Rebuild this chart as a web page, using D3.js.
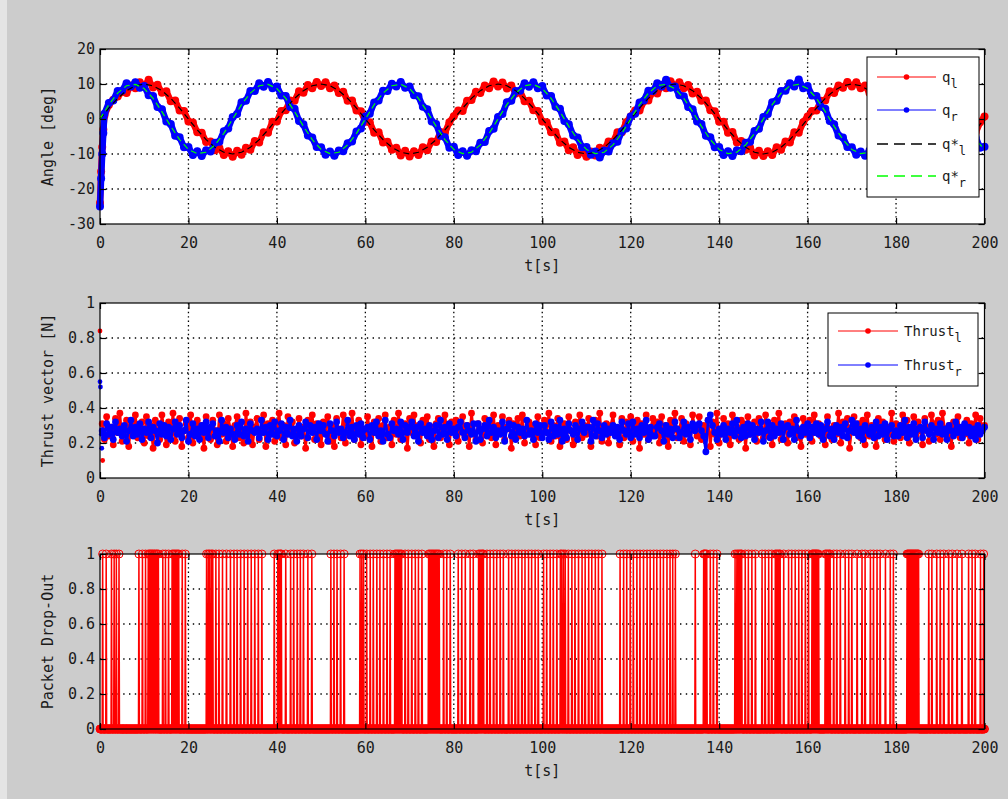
<!DOCTYPE html>
<html>
<head>
<meta charset="utf-8">
<title>Angle, thrust and packet drop-out</title>
<script src="https://cdn.jsdelivr.net/npm/d3@7"></script>
<style>
  html, body { margin: 0; padding: 0; background: #cccccc; overflow: hidden; }
  svg { display: block; }
</style>
</head>
<body>
<script>
// ---- data ----
var xTicks = [0, 20, 40, 60, 80, 100, 120, 140, 160, 180, 200];
var angleTicks = [-30, -20, -10, 0, 10, 20];
var unitTicks = [0, 0.2, 0.4, 0.6, 0.8, 1];

// measured angles [deg]: start transient, then one sample per second from t = 1 s
var angleStartT = [0, 0.25, 0.5, 0.75];
var qlStart = [-24, -15, -8, -3];
var qrStart = [-25, -17, -10, -4];
var ql = [
  1.0, 4.0, 5.5, 6.4, 7.8, 7.4, 9.6, 8.8, 10.5, 9.3,
  11.2, 9.0, 9.8, 7.5, 7.9, 5.1, 5.3, 2.4, 2.3, -0.7,
  -1.0, -3.8, -3.9, -6.6, -6.4, -8.9, -8.3, -10.3, -9.2, -10.8,
  -9.1, -10.2, -8.2, -8.8, -6.3, -6.7, -3.8, -3.9, -0.8, -0.7,
  2.3, 2.5, 5.3, 5.2, 7.9, 7.5, 9.7, 8.8, 10.6, 9.4,
  10.5, 8.8, 9.6, 7.4, 7.8, 5.2, 5.3, 2.4, 2.2, -0.8,
  -0.9, -3.9, -3.8, -6.7, -6.5, -8.8, -8.2, -10.4, -9.1, -10.7,
  -9.2, -10.3, -8.1, -8.9, -6.4, -6.6, -3.7, -3.9, -0.9, 0.8,
  2.4, 2.3, 5.2, 5.4, 7.8, 7.4, 9.6, 8.8, 10.7, 9.3,
  10.4, 8.7, 9.6, 7.3, 7.9, 5.1, 5.2, 2.5, 2.3, -0.7,
  -0.9, -3.8, -3.7, -6.8, -6.4, -8.9, -8.1, -10.3, -9.2, -10.8,
  -9.3, -10.4, -8.2, -8.7, -6.4, -6.6, -3.8, -3.8, -0.9, 0.7,
  2.4, 2.4, 5.1, 5.3, 7.9, 7.3, 9.7, 8.8, 10.8, 9.3,
  10.5, 8.8, 9.7, 7.3, 7.8, 5.2, 5.3, 2.5, 2.2, -0.8,
  -0.8, -3.9, -3.7, -6.7, -6.3, -8.8, -8.2, -10.4, -9.1, -10.6,
  -9.2, -10.3, -8.1, -8.8, -6.4, -6.7, -3.8, -3.9, -0.9, 0.7,
  2.3, 2.4, 5.2, 5.3, 7.9, 7.4, 9.6, 8.9, 10.6, 9.3,
  10.5, 8.8, 9.6, 7.4, 7.8, 5.2, 5.3, 2.4, 2.3, -0.7,
  -0.9, -3.8, -3.8, -6.6, -6.4, -8.9, -8.2, -10.3, -9.2, -10.8,
  -9.2, -10.3, -8.2, -8.8, -6.4, -6.6, -3.8, -3.9, -0.9, 0.7
];
var qr = [
  1.5, 4.6, 5.3, 8.0, 8.1, 10.2, 9.3, 10.5, 8.9, 9.4, 6.8, 6.6, 3.4, 2.8, -0.7,
  -1.4, -4.8, -5.2, -8.1, -8.0, -10.3, -9.2, -10.6, -8.9, -9.3, -6.8, -6.5, -3.5, -2.7, 0.6,
  1.4, 4.8, 5.2, 8.0, 8.0, 10.2, 9.2, 10.6, 8.8, 9.3, 6.7, 6.6, 3.4, 2.9, -0.6,
  -1.5, -4.7, -5.3, -8.0, -8.1, -10.2, -9.3, -10.5, -9.0, -9.2, -6.9, -6.4, -3.6, -2.7, 0.7,
  1.5, 4.7, 5.3, 8.1, 8.0, 10.1, 9.3, 10.6, 8.9, 9.3, 6.8, 6.5, 3.5, 2.8, -0.7,
  -1.4, -4.8, -5.2, -8.2, -7.9, -10.3, -9.2, -10.5, -8.9, -9.2, -6.8, -6.6, -3.4, -2.8, 0.6,
  1.4, 4.8, 5.2, 8.0, 8.1, 10.2, 9.2, 10.5, 8.8, 9.4, 6.7, 6.6, 3.5, 2.9, -0.6,
  -1.5, -4.7, -5.3, -8.1, -8.0, -10.2, -9.3, -11.0, -9.0, -9.3, -6.9, -6.5, -3.5, -2.7, 0.7,
  1.5, 4.7, 5.3, 8.1, 8.0, 10.2, 9.3, 11.2, 8.9, 9.3, 6.8, 6.5, 3.4, 2.8, -0.7,
  -1.4, -4.8, -5.2, -8.1, -8.0, -10.3, -9.2, -10.6, -8.9, -9.2, -6.8, -6.5, -3.4, -2.8, 0.6,
  1.4, 4.8, 5.2, 8.0, 8.1, 10.2, 9.3, 11.3, 8.8, 9.4, 6.7, 6.6, 3.5, 2.9, -0.6,
  -1.5, -4.7, -5.3, -8.0, -8.1, -10.2, -9.3, -10.5, -9.0, -9.2, -6.9, -6.4, -3.6, -2.7, 0.7,
  1.5, 4.7, 5.3, 8.1, 8.0, 10.1, 9.3, 10.6, 8.9, 9.3, 6.8, 6.5, 3.5, 2.8, -0.7,
  -1.4, -4.8, -5.2, -8.2, -7.9
];

// reference angles [deg], one sample every 2 s from t = 0
var qlRef = [
  0, 3.1, 5.9, 8.1, 9.5, 10, 9.5, 8.1, 5.9, 3.1, 0, -3.1, -5.9, -8.1, -9.5, -10, -9.5, -8.1, -5.9, -3.1,
  0, 3.1, 5.9, 8.1, 9.5, 10, 9.5, 8.1, 5.9, 3.1, 0, -3.1, -5.9, -8.1, -9.5, -10, -9.5, -8.1, -5.9, -3.1,
  0, 3.1, 5.9, 8.1, 9.5, 10, 9.5, 8.1, 5.9, 3.1, 0, -3.1, -5.9, -8.1, -9.5, -10, -9.5, -8.1, -5.9, -3.1,
  0, 3.1, 5.9, 8.1, 9.5, 10, 9.5, 8.1, 5.9, 3.1, 0, -3.1, -5.9, -8.1, -9.5, -10, -9.5, -8.1, -5.9, -3.1,
  0, 3.1, 5.9, 8.1, 9.5, 10, 9.5, 8.1, 5.9, 3.1, 0, -3.1, -5.9, -8.1, -9.5, -10, -9.5, -8.1, -5.9, -3.1,
  0
];
var qrRef = [
  0, 4.1, 7.4, 9.5, 9.9, 8.7, 5.9, 2.1, -2.1, -5.9, -8.7, -9.9, -9.5, -7.4, -4.1,
  0, 4.1, 7.4, 9.5, 9.9, 8.7, 5.9, 2.1, -2.1, -5.9, -8.7, -9.9, -9.5, -7.4, -4.1,
  0, 4.1, 7.4, 9.5, 9.9, 8.7, 5.9, 2.1, -2.1, -5.9, -8.7, -9.9, -9.5, -7.4, -4.1,
  0, 4.1, 7.4, 9.5, 9.9, 8.7, 5.9, 2.1, -2.1, -5.9, -8.7, -9.9, -9.5, -7.4, -4.1,
  0, 4.1, 7.4, 9.5, 9.9, 8.7, 5.9, 2.1, -2.1, -5.9, -8.7, -9.9, -9.5, -7.4, -4.1,
  0, 4.1, 7.4, 9.5, 9.9, 8.7, 5.9, 2.1, -2.1, -5.9, -8.7, -9.9, -9.5, -7.4, -4.1,
  0, 4.1, 7.4, 9.5, 9.9, 8.7, 5.9, 2.1, -2.1, -5.9, -8.7
];

// thrust [0.01 N]: isolated first samples, then one sample every 0.5 s from t = 0.5 s
var thrustLStartT = [0, 0.6];
var thrustLStart = [84, 10];
var thrustRStartT = [0, 0.1, 0.3, 0.4];
var thrustRStart = [55, 52, 25, 17];
var thrustL = [
  31,22,35,24,29,19,34,26,37,21, 28,33,18,30,25,36,23,27,32,20,
  35,24,30,17,33,26,22,36,28,19, 32,25,37,21,29,34,18,27,31,23,
  36,20,28,33,24,30,17,35,26,22, 33,27,19,36,25,31,21,34,28,18,
  30,35,23,27,20,37,24,32,19,29, 34,22,26,36,18,31,25,33,21,28,
  37,23,30,19,35,26,32,20,27,34, 24,29,17,33,28,36,22,31,25,19,
  32,26,35,21,30,18,34,27,23,36, 20,31,25,37,22,29,33,19,28,24,
  35,27,18,32,26,34,21,30,36,23, 29,19,33,25,37,22,28,31,17,34,
  26,36,24,30,20,33,27,35,22,29, 18,31,34,23,28,36,25,19,32,27,
  33,21,29,35,24,30,18,37,26,22, 31,28,20,34,25,32,23,36,19,30,
  27,35,22,29,33,17,31,26,34,24, 36,20,28,32,25,30,19,35,23,29,
  33,26,37,21,30,24,34,18,28,31, 22,35,27,19,32,26,36,23,30,25,
  34,18,29,33,24,37,21,28,31,20, 30,36,25,27,19,34,23,32,26,35,
  21,29,33,17,31,25,36,22,28,34, 26,32,20,35,24,30,18,33,27,37,
  23,28,34,21,31,26,19,36,29,24, 35,22,30,27,33,18,32,25,37,20,
  28,34,24,31,19,36,26,29,22,33, 31,17,35,25,28,32,21,34,27,23,
  36,24,30,19,33,26,37,22,29,31, 20,32,27,35,23,28,18,34,25,30,
  33,21,36,26,31,24,29,19,35,27, 22,30,25,37,20,32,28,34,17,29,
  35,26,31,23,33,19,36,24,30,28, 18,34,27,32,22,29,25,37,21,31,
  30,23,36,26,33,20,28,35,24,32, 27,19,34,29,21,36,31,25,33,22,
  37,28,24,30,18,32,26,35,23,29, 25,33,20,31,27,36,22,34,28,30
];
var thrustR = [
  27,23,31,25,29,22,32,26,28,24, 30,21,27,33,24,29,25,31,22,28,
  26,32,23,29,27,20,31,25,30,24, 29,22,28,32,25,30,23,27,33,21,
  25,31,24,28,22,30,26,32,23,29, 31,24,27,21,33,26,29,23,28,25,
  22,30,25,32,24,28,21,31,27,26, 28,23,33,26,29,22,30,25,32,24,
  27,31,22,29,25,33,24,28,21,30, 24,28,32,23,30,26,29,22,31,27,
  30,25,21,31,27,24,32,26,28,23, 26,33,24,29,22,30,25,31,23,28,
  29,22,30,26,32,24,27,21,33,25, 23,31,27,28,25,32,22,30,26,29,
  32,24,29,21,31,26,28,24,30,22, 27,30,23,33,25,29,22,31,26,28,
  24,29,32,26,23,30,27,25,31,21, 31,22,28,30,24,33,26,29,23,27,
  25,32,21,28,31,24,30,22,29,26, 28,24,33,25,27,22,31,26,30,23,
  30,26,22,32,24,29,25,33,21,28, 23,31,27,25,30,22,28,32,26,29,
  29,21,33,24,31,27,23,30,25,28, 26,30,24,29,22,32,27,25,31,23,
  32,25,28,23,30,26,33,22,29,24, 24,29,31,27,21,30,25,28,23,32,
  28,23,26,32,25,29,22,31,27,30, 31,27,24,15,33,36,30,26,22,28,
  25,30,22,28,26,31,24,33,27,23, 29,24,31,25,30,22,28,26,32,21,
  27,32,23,30,24,28,26,31,22,29, 30,25,28,22,33,27,24,29,26,31,
  23,29,26,31,25,30,22,28,32,24, 28,22,30,26,29,24,31,23,27,33,
  26,31,24,28,22,30,27,25,29,23, 32,24,29,25,31,22,28,30,24,27,
  24,30,26,33,23,29,25,31,22,28, 29,23,32,27,25,30,22,28,26,31,
  25,28,22,30,27,24,32,26,29,23, 31,26,29,24,28,22,30,25,27,29
];

// packet drop-out: times [s] of lost packets, signal sampled every 0.1 s
var dropDt = 0.1;
var dropTimes = [
  0.6, 1.4, 2.6, 3.2, 3.7, 4.3,
  8.8, 9.6, 10.3, 10.9, 11.2, 11.4, 11.7, 11.9, 12.2, 12.4, 12.7, 12.9, 13.2, 14.2, 14.8, 15.5,
  16.3, 16.6, 16.9, 17.2, 17.5, 17.8, 18.6, 19.3,
  24.1, 24.5, 24.8, 25.2, 25.5, 26.2, 26.9, 27.7, 28.6, 29.5, 30.3, 31.0, 31.8, 32.6, 33.4, 34.2,
  35.0, 35.8, 36.6,
  39.4, 40.2, 40.5, 40.8, 41.0, 42.0, 43.1, 43.8, 44.6, 45.3, 46.0, 47.0, 47.9,
  52.2, 52.9, 53.6, 54.4, 55.2,
  58.8, 59.2, 59.6, 60.3, 61.1, 61.8, 62.6, 63.3, 64.1, 64.9, 65.6, 66.7, 67.0, 67.3, 67.6, 67.9,
  68.2, 69.0, 69.7, 70.5, 71.3, 72.0, 72.8, 74.3, 74.6, 74.9, 75.2, 75.5, 75.8, 76.1, 76.4, 76.7,
  77.7, 78.4, 79.2,
  81.0, 81.8, 82.6, 83.7, 84.4, 85.6, 85.9, 86.2, 86.5, 86.7, 87.5, 88.2, 89.0, 89.7, 90.5, 91.2,
  92.4, 93.1, 93.9, 94.6, 95.4, 96.1, 96.9, 97.6, 98.4, 99.1, 100.3, 101.0, 101.8, 102.5, 103.3,
  104.1, 104.4, 104.8, 105.2, 105.9, 106.7, 107.4, 108.2, 109.0, 109.7, 110.5, 111.2, 112.0,
  112.7, 113.5,
  117.6, 118.4, 119.1, 119.9, 120.6, 121.4, 122.1, 122.9, 123.7, 124.4, 125.2, 125.9, 126.7,
  127.4, 128.2, 128.9, 129.5, 130.1,
  134.6, 136.5, 136.7, 136.9, 137.2, 138.0, 138.7, 139.5,
  143.6, 144.0, 144.3, 144.6, 144.9, 145.1, 145.9, 146.6, 147.4, 148.2, 149.7, 150.4, 151.2,
  151.9, 152.7, 153.0, 153.3, 153.6, 153.8, 154.6, 155.7, 156.4, 157.2, 158.0, 158.7, 159.5,
  160.2, 161.0, 161.2, 161.4, 161.6, 161.8, 162.0, 162.2, 162.5, 164.0, 164.3, 164.6, 164.9,
  165.1, 165.9, 166.6, 167.4, 168.5, 169.3, 170.0, 171.2, 172.3, 173.0, 174.2, 174.9, 175.7,
  176.4, 177.6, 178.7, 179.4,
  182.5, 182.7, 182.9, 183.1, 183.3, 183.5, 183.7, 183.9, 184.1, 184.3, 184.5, 184.7, 184.9, 185.1,
  187.4, 188.1, 189.2, 190.0, 190.8, 191.9, 192.7, 193.8, 194.9, 196.4, 197.2, 197.9, 199.1, 199.8
];

// ---- drawing ----
var W = 1008, H = 799;
var FONT = '"DejaVu Sans Mono", "Liberation Mono", monospace';
var RED = '#ff0000', BLUE = '#0000ff', GREEN = '#00ff00';
var left = 100, right = 984.5, plotH = 175;

var svg = d3.select('body').append('svg').attr('width', W).attr('height', H);
svg.append('rect').attr('width', W).attr('height', H).attr('fill', '#cccccc');
svg.append('rect').attr('width', 7).attr('height', H).attr('fill', '#e4e4e4');

var x = d3.scaleLinear().domain([0, 200]).range([left, right]);
var fmt = function (d) { return String(d); };

function makePanel(top, yDomain, yTicks, yLabel) {
  var bottom = top + plotH;
  var y = d3.scaleLinear().domain(yDomain).range([bottom, top]);
  var g = svg.append('g');
  g.append('rect').attr('x', left).attr('y', top).attr('width', right - left).attr('height', plotH).attr('fill', '#fff');

  // dotted grid
  var grid = g.append('g').attr('stroke', '#000').attr('stroke-width', 1.3);
  grid.selectAll(null).data(xTicks.slice(1, -1)).enter().append('line')
    .attr('x1', function (d) { return x(d); }).attr('x2', function (d) { return x(d); })
    .attr('y1', top).attr('y2', bottom).attr('stroke-dasharray', '1.4,3');
  grid.selectAll(null).data(yTicks.slice(1, -1)).enter().append('line')
    .attr('x1', left).attr('x2', right)
    .attr('y1', function (d) { return y(d); }).attr('y2', function (d) { return y(d); })
    .attr('stroke-dasharray', '1.4,4.4');

  var data = g.append('g');
  var frame = g.append('g');

  function styleAxis(sel) {
    sel.attr('font-family', FONT).attr('font-size', 15);
    sel.select('.domain').remove();
    sel.selectAll('.tick line').attr('stroke', '#000').attr('stroke-width', 1.2);
    sel.selectAll('.tick text').attr('fill', '#1a1a1a');
  }
  frame.append('g').attr('transform', 'translate(0,' + bottom + ')')
    .call(d3.axisBottom(x).tickValues(xTicks).tickSizeInner(-6).tickSizeOuter(0).tickPadding(13).tickFormat(fmt))
    .call(styleAxis);
  frame.append('g').attr('transform', 'translate(0,' + top + ')')
    .call(d3.axisTop(x).tickValues(xTicks).tickSizeInner(-6).tickSizeOuter(0).tickFormat(''))
    .call(styleAxis);
  frame.append('g').attr('transform', 'translate(' + left + ',0)')
    .call(d3.axisLeft(y).tickValues(yTicks).tickSizeInner(-6).tickSizeOuter(0).tickPadding(5).tickFormat(fmt))
    .call(styleAxis);
  frame.append('g').attr('transform', 'translate(' + right + ',0)')
    .call(d3.axisRight(y).tickValues(yTicks).tickSizeInner(-6).tickSizeOuter(0).tickFormat(''))
    .call(styleAxis);
  frame.append('rect').attr('x', left).attr('y', top).attr('width', right - left).attr('height', plotH)
    .attr('fill', 'none').attr('stroke', '#000').attr('stroke-width', 1.2);

  g.append('text').attr('x', (left + right) / 2).attr('y', bottom + 42)
    .attr('text-anchor', 'middle').attr('dominant-baseline', 'central')
    .attr('font-family', FONT).attr('font-size', 15).attr('fill', '#1a1a1a').text('t[s]');
  g.append('text').attr('transform', 'translate(48,' + (top + plotH / 2) + ') rotate(-90)')
    .attr('text-anchor', 'middle').attr('dominant-baseline', 'central')
    .attr('font-family', FONT).attr('font-size', 15).attr('fill', '#1a1a1a').text(yLabel);

  return { y: y, data: data, g: g, top: top, bottom: bottom };
}

function series(startT, startV, t0, dt, values, scale) {
  var pts = startT.map(function (t, i) { return [t, startV[i] * scale]; });
  return pts.concat(values.map(function (v, i) { return [t0 + i * dt, v * scale]; }));
}

function drawMarkers(p, pts, color, r, hollow) {
  p.data.append('g').selectAll(null).data(pts).enter().append('circle')
    .attr('cx', function (d) { return x(d[0]); }).attr('cy', function (d) { return p.y(d[1]); })
    .attr('r', r)
    .attr('fill', hollow ? 'none' : color)
    .attr('stroke', hollow ? color : 'none').attr('stroke-width', 1);
}

function drawLine(p, pts, color, opts) {
  var line = d3.line().x(function (d) { return x(d[0]); }).y(function (d) { return p.y(d[1]); });
  p.data.append('path').datum(pts).attr('d', line).attr('fill', 'none')
    .attr('stroke', color).attr('stroke-width', opts.width || 1)
    .attr('stroke-linejoin', 'round')
    .attr('stroke-dasharray', opts.dash || null);
  if (opts.r) drawMarkers(p, pts, color, opts.r, opts.hollow);
}

function legend(p, box, entries, lineX, textX, rowY) {
  var lg = p.g.append('g');
  lg.append('rect').attr('x', box[0]).attr('y', box[1]).attr('width', box[2]).attr('height', box[3])
    .attr('fill', '#fff').attr('stroke', '#000').attr('stroke-width', 1);
  entries.forEach(function (e, i) {
    var cy = rowY[i];
    lg.append('line').attr('x1', lineX[0]).attr('x2', lineX[1]).attr('y1', cy).attr('y2', cy)
      .attr('stroke', e.color).attr('stroke-width', e.dash ? 1.3 : 1)
      .attr('stroke-dasharray', e.dash ? '11,6' : null);
    if (e.marker) {
      lg.append('circle').attr('cx', (lineX[0] + lineX[1]) / 2).attr('cy', cy).attr('r', 2.8).attr('fill', e.color);
    }
    var t = lg.append('text').attr('x', textX).attr('y', cy + 5)
      .attr('font-family', FONT).attr('font-size', 14).attr('fill', '#1a1a1a').text(e.label);
    t.append('tspan').attr('dy', 6).attr('font-size', 12).text(e.sub);
  });
}

// panel 1: angles
var p1 = makePanel(49, [-30, 20], angleTicks, 'Angle [deg]');
drawLine(p1, series(angleStartT, qlStart, 1, 1, ql, 1), RED, { r: 4, width: 6.5 });
drawLine(p1, series(angleStartT, qrStart, 1, 1, qr, 1), BLUE, { r: 4, width: 6.5 });
drawLine(p1, series([], [], 0, 2, qlRef, 1), '#000', { dash: '6,4', width: 1.2 });
drawLine(p1, series([], [], 0, 2, qrRef, 1), GREEN, { dash: '6,4', width: 1.2 });
legend(p1, [867, 57, 112, 140], [
  { label: 'q', sub: 'l', color: RED, marker: true },
  { label: 'q', sub: 'r', color: BLUE, marker: true },
  { label: 'q*', sub: 'l', color: '#000', dash: true },
  { label: 'q*', sub: 'r', color: GREEN, dash: true }
], [877, 936], 942, [77, 110, 144, 176]);

// panel 2: thrust
var p2 = makePanel(303, [0, 1], unitTicks, 'Thrust vector [N]');
drawLine(p2, series([], [], 0.5, 0.5, thrustL, 0.01), RED, { r: 3.4, width: 2.6 });
drawMarkers(p2, series(thrustLStartT, thrustLStart, 0, 0, [], 0.01), RED, 2.4);
drawLine(p2, series([], [], 0.5, 0.5, thrustR, 0.01), BLUE, { r: 3.4, width: 2.6 });
drawMarkers(p2, series(thrustRStartT, thrustRStart, 0, 0, [], 0.01), BLUE, 2.4);
legend(p2, [828, 313, 150, 73], [
  { label: 'Thrust', sub: 'l', color: RED, marker: true },
  { label: 'Thrust', sub: 'r', color: BLUE, marker: true }
], [838, 898], 904, [331, 365]);

// panel 3: packet drop-out
var p3 = makePanel(554, [0, 1], unitTicks, 'Packet Drop-Out');
var dropIdx = new Set(dropTimes.map(function (t) { return Math.round(t / dropDt); }));
var dropPts = d3.range(Math.round(200 / dropDt) + 1).map(function (i) {
  return [i * dropDt, dropIdx.has(i) ? 1 : 0];
});
drawLine(p3, dropPts, RED, { r: 4, hollow: true, width: 1.5 });
</script>
</body>
</html>
